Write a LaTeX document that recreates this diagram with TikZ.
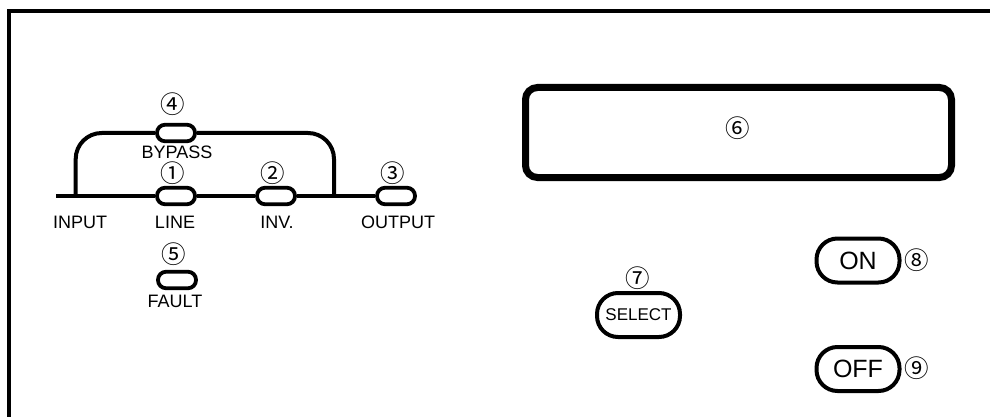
\documentclass[tikz,border=0pt]{standalone}
\usepackage{fontspec}
\setmainfont{Liberation Sans}
\newfontfamily\circfont{Noto Sans CJK JP}
\begin{document}
\begin{tikzpicture}[x=1pt,y=-1pt,
 led/.style={draw,line width=3.8pt,rounded corners=8pt,minimum width=38pt,minimum height=16.5pt,inner sep=0pt},
 btn/.style={draw,line width=4pt,rounded corners=21pt,minimum width=83pt,minimum height=44pt,inner sep=0pt},
 lbl/.style={font=\fontsize{18}{18}\selectfont,inner sep=0pt},
 num/.style={font=\circfont\fontsize{24.5}{24.5}\selectfont,inner sep=0pt,text height=18.8pt,text depth=-1.8pt},
 wire/.style={line width=4pt},
 frame/.style={line width=4pt}]
\useasboundingbox (0,0) rectangle (990,417);
\fill[white] (0,0) rectangle (990,417);
% frame
\draw[frame] (9,417) -- (9,11) -- (990,11);
% LEDs
\node[led] (led4) at (176,133) {};
\node[led] (led1) at (176,196) {};
\node[led] (led2) at (276,196) {};
\node[led] (led3) at (396,196) {};
\node[led] (led5) at (177,280) {};
% wires
\coordinate (inL) at (56,196);
\coordinate (jL) at (75.7,196);
\coordinate (jR) at (334,196);
\draw[wire] (inL) -- (led1.west);
\draw[wire] (led1.east) -- (led2.west);
\draw[wire] (led2.east) -- (led3.west);
\draw[wire,rounded corners=26pt] (jL) -- (jL |- led4) -- (led4.west);
\draw[wire,rounded corners=26pt] (led4.east) -- (jR |- led4) -- (jR);
% numbers
\node[num] (n4) at (173,104) {④};
\node[num] (n1) at (173,173) {①};
\node[num] (n2) at (273,173) {②};
\node[num] (n3) at (393,173) {③};
\node[num] (n5) at (174,254) {⑤};
% labels
\node[lbl] (tbyp) at (177,152.5) {BYPASS};
\node[lbl] (tin) at (80,222) {INPUT};
\node[lbl] (tline) at (175,222) {LINE};
\node[lbl] (tinv) at (277,222) {INV.};
\node[lbl] (tout) at (398,222) {OUTPUT};
\node[lbl] (tfault) at (175,301) {FAULT};
% display
\node[draw,line width=7pt,rounded corners=12pt,minimum width=426pt,minimum height=90pt,inner sep=0pt] (disp) at (738.5,132.5) {};
\node[num] (n6) at (737.5,128) {⑥};
% buttons
\node[btn,font=\fontsize{17}{17}\selectfont] (sel) at (638.5,315) {SELECT};
\node[num] (n7) at (638,278) {⑦};
\node[btn,font=\fontsize{25}{25}\selectfont] (on) at (858,260.5) {ON};
\node[num] (n8) at (916.5,260) {⑧};
\node[btn,font=\fontsize{25}{25}\selectfont] (off) at (858,369) {OFF};
\node[num] (n9) at (916.5,368) {⑨};
\end{tikzpicture}
\end{document}
